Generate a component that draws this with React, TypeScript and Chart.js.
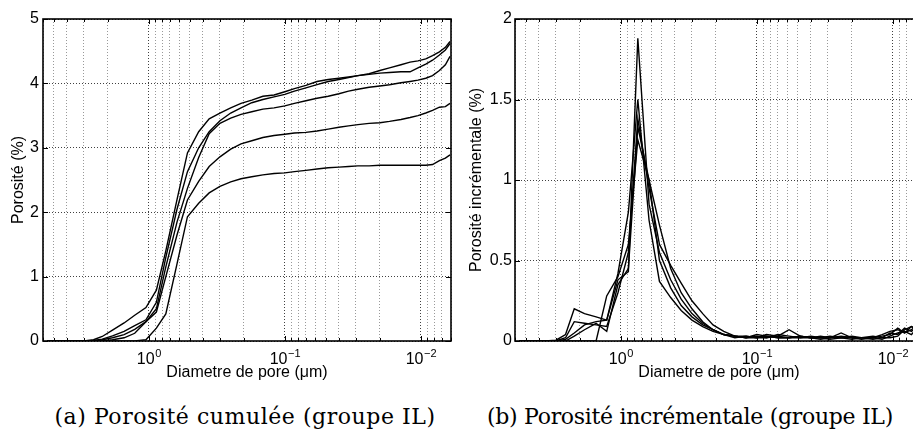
import React, { useEffect, useRef } from 'react';
import { Chart, registerables } from 'chart.js';

Chart.register(...registerables);

// Pore diameters (µm)
const diameters = [5.6, 4.4, 3.6, 3.0, 2.55, 2.2, 1.85, 1.52, 1.27, 1.05, 0.88, 0.75, 0.62, 0.52, 0.43, 0.36, 0.30, 0.25, 0.21, 0.175, 0.145, 0.12, 0.1, 0.085, 0.07, 0.058, 0.048, 0.04, 0.034, 0.029, 0.024, 0.02, 0.017, 0.014, 0.012, 0.0105, 0.0092, 0.0082, 0.0073, 0.0066, 0.0061];

// (a) cumulative porosity (%)
const cumulA = [0, 0, 0, 0, 0.02, 0.07, 0.17, 0.28, 0.4, 0.52, 0.79, 1.4, 2.2, 2.92, 3.25, 3.45, 3.54, 3.62, 3.69, 3.74, 3.8, 3.82, 3.87, 3.92, 3.97, 4.03, 4.06, 4.08, 4.1, 4.12, 4.14, 4.16, 4.17, 4.18, 4.18, 4.24, 4.3, 4.36, 4.44, 4.52, 4.62];
const cumulB = [0, 0, 0, 0, 0.01, 0.03, 0.08, 0.15, 0.24, 0.33, 0.6, 1.3, 2.05, 2.63, 3.0, 3.25, 3.42, 3.54, 3.62, 3.7, 3.75, 3.79, 3.83, 3.88, 3.93, 3.98, 4.03, 4.06, 4.09, 4.12, 4.15, 4.2, 4.24, 4.29, 4.33, 4.35, 4.38, 4.43, 4.49, 4.56, 4.65];
const cumulC = [0, 0, 0, 0, 0, 0.02, 0.05, 0.1, 0.18, 0.3, 0.5, 1.15, 1.85, 2.37, 2.85, 3.22, 3.38, 3.46, 3.52, 3.56, 3.6, 3.62, 3.65, 3.69, 3.73, 3.77, 3.8, 3.84, 3.88, 3.91, 3.94, 3.96, 3.98, 4.01, 4.03, 4.05, 4.08, 4.12, 4.2, 4.29, 4.42];
const cumulD = [0, 0, 0, 0, 0, 0, 0.02, 0.05, 0.12, 0.3, 0.45, 1.0, 1.65, 2.19, 2.48, 2.71, 2.86, 2.98, 3.06, 3.11, 3.16, 3.19, 3.21, 3.23, 3.24, 3.26, 3.29, 3.32, 3.34, 3.36, 3.38, 3.39, 3.41, 3.44, 3.47, 3.5, 3.54, 3.58, 3.63, 3.64, 3.69];
const cumulE = [0, 0, 0, 0, 0, 0, 0, 0, 0, 0.02, 0.2, 0.42, 1.2, 1.93, 2.14, 2.3, 2.4, 2.47, 2.52, 2.55, 2.58, 2.6, 2.61, 2.63, 2.65, 2.67, 2.69, 2.7, 2.71, 2.72, 2.72, 2.73, 2.73, 2.73, 2.73, 2.73, 2.73, 2.74, 2.8, 2.84, 2.89];

// (b) incremental porosity (%)
const incr1 = [0, 0, 0, 0, 0.01, 0.05, 0.1, 0.12, 0.13, 0.38, 0.43, 1.88, 0.85, 0.55, 0.38, 0.26, 0.17, 0.11, 0.07, 0.04, 0.03, 0.03, 0.02, 0.03, 0.02, 0.02, 0.03, 0.02, 0.02, 0.01, 0.02, 0.02, 0.01, 0.02, 0.01, 0.03, 0.05, 0.06, 0.04, 0.08, 0.1];
const incr2 = [0, 0, 0, 0.005, 0.04, 0.2, 0.17, 0.15, 0.13, 0.42, 0.8, 1.5, 0.75, 0.37, 0.27, 0.19, 0.13, 0.09, 0.06, 0.04, 0.03, 0.02, 0.03, 0.02, 0.04, 0.03, 0.02, 0.02, 0.03, 0.02, 0.02, 0.03, 0.02, 0.02, 0.04, 0.06, 0.07, 0.05, 0.09, 0.07, 0.11];
const incr3 = [0, 0, 0, 0, 0.02, 0.12, 0.11, 0.1, 0.09, 0.3, 0.55, 1.38, 0.95, 0.6, 0.47, 0.36, 0.25, 0.17, 0.1, 0.06, 0.03, 0.02, 0.02, 0.04, 0.03, 0.07, 0.03, 0.02, 0.02, 0.02, 0.03, 0.02, 0.02, 0.01, 0.02, 0.05, 0.04, 0.08, 0.06, 0.09, 0.08];
const incr4 = [0, 0, 0, 0, 0, 0.03, 0.07, 0.11, 0.06, 0.35, 0.45, 1.33, 1.0, 0.5, 0.33, 0.22, 0.15, 0.1, 0.07, 0.04, 0.02, 0.03, 0.02, 0.02, 0.03, 0.02, 0.03, 0.02, 0.01, 0.02, 0.05, 0.02, 0.02, 0.02, 0.03, 0.04, 0.08, 0.05, 0.07, 0.1, 0.06];
const incr5 = [0, 0, 0, 0, 0, 0, 0, 0, 0.28, 0.4, 0.6, 1.25, 1.0, 0.72, 0.45, 0.3, 0.2, 0.12, 0.07, 0.04, 0.03, 0.02, 0.04, 0.03, 0.02, 0.02, 0.02, 0.03, 0.02, 0.03, 0.02, 0.01, 0.02, 0.03, 0.02, 0.02, 0.03, 0.07, 0.09, 0.07, 0.1];

// Axis labels / ticks
const xMajorTicks = [1, 0.1, 0.01];
const xMajorExponents = ['0', '\u22121', '\u22122'];
const xMantissas = [1, 2, 3, 4, 5, 6, 7, 8, 9];
const xDecades = [0.001, 0.01, 0.1, 1];
const xMin = 0.006;
const xMax = 6;
const xTitle = 'Diametre de pore (\u03bcm)';
const leftYTitle = 'Porosit\u00e9 (%)';
const rightYTitle = 'Porosit\u00e9 incr\u00e9mentale (%)';
const captionA = '(a) Porosit\u00e9 cumul\u00e9e (groupe IL)';
const captionB = '(b) Porosit\u00e9 incr\u00e9mentale (groupe IL)';

const SANS = '"Liberation Sans", Arial, Helvetica, sans-serif';

const gridValues: number[] = [];
xDecades.forEach((d) => xMantissas.forEach((m) => {
  const v = +(m * d).toPrecision(3);
  if (v >= xMin && v <= xMax) gridValues.push(v);
}));

const isMajor = (v: number) => xMajorTicks.some((m) => Math.abs(v - m) / m < 1e-6);

const framePlugin = {
  id: 'matlabFrame',
  afterDraw(chart: any) {
    const { ctx, chartArea } = chart;
    const xs = chart.scales.x;
    const ys = chart.scales.y;
    ctx.save();
    ctx.strokeStyle = '#000';
    ctx.lineWidth = 1;
    xs.ticks.forEach((t: any) => {
      const px = Math.round(xs.getPixelForValue(t.value)) + 0.5;
      const len = isMajor(t.value) ? 5 : 3;
      ctx.beginPath();
      ctx.moveTo(px, chartArea.bottom);
      ctx.lineTo(px, chartArea.bottom - len);
      ctx.moveTo(px, chartArea.top);
      ctx.lineTo(px, chartArea.top + len);
      ctx.stroke();
    });
    ys.ticks.forEach((t: any) => {
      const py = Math.round(ys.getPixelForValue(t.value)) + 0.5;
      ctx.beginPath();
      ctx.moveTo(chartArea.left, py);
      ctx.lineTo(chartArea.left + 5, py);
      ctx.moveTo(chartArea.right, py);
      ctx.lineTo(chartArea.right - 5, py);
      ctx.stroke();
    });
    ctx.lineWidth = 1.6;
    ctx.strokeRect(chartArea.left, chartArea.top, chartArea.right - chartArea.left, chartArea.bottom - chartArea.top);
    ctx.fillStyle = '#000';
    ctx.textBaseline = 'alphabetic';
    ctx.textAlign = 'left';
    xMajorTicks.forEach((v, i) => {
      const px = xs.getPixelForValue(v);
      ctx.font = `16px ${SANS}`;
      const w1 = ctx.measureText('10').width;
      ctx.font = `11px ${SANS}`;
      const w2 = ctx.measureText(xMajorExponents[i]).width;
      const x0 = px - (w1 + w2) / 2;
      ctx.font = `16px ${SANS}`;
      ctx.fillText('10', x0, chartArea.bottom + 22.5);
      ctx.font = `11px ${SANS}`;
      ctx.fillText(xMajorExponents[i], x0 + w1 + 0.5, chartArea.bottom + 15.5);
    });
    ctx.restore();
  },
};

function makeConfig(series: number[][], yMax: number, yStep: number, yTitle: string, yWidth: number, yTitlePad: number, yTickPad: number, padRight: number): any {
  return {
    type: 'line',
    data: {
      datasets: series.map((s) => ({
        data: diameters.map((d, i) => ({ x: d, y: s[i] })),
        borderColor: '#000',
        borderWidth: 1.4,
        pointRadius: 0,
        fill: false,
        tension: 0,
      })),
    },
    options: {
      animation: false,
      responsive: false,
      maintainAspectRatio: false,
      layout: { padding: { top: 19, right: padRight, bottom: 0, left: 0 } },
      plugins: { legend: { display: false }, tooltip: { enabled: false } },
      scales: {
        x: {
          type: 'logarithmic',
          reverse: true,
          min: xMin,
          max: xMax,
          afterBuildTicks: (s: any) => { s.ticks = gridValues.map((v) => ({ value: v })); },
          ticks: { display: false },
          grid: {
            drawTicks: false,
            color: (c: any) => (c.tick && isMajor(c.tick.value) ? 'rgba(0,0,0,0.75)' : 'rgba(0,0,0,0.4)'),
            lineWidth: 1,
          },
          border: { display: false, dash: [1, 2] },
          title: { display: true, text: xTitle, color: '#000', font: { size: 16, family: SANS }, padding: { top: 0, bottom: 18 } },
          afterFit: (s: any) => { s.height = 59; },
        },
        y: {
          min: 0,
          max: yMax,
          ticks: { stepSize: yStep, padding: yTickPad, color: '#000', font: { size: 16, family: SANS }, callback: (v: any) => String(v) },
          grid: { drawTicks: false, color: 'rgba(0,0,0,0.75)', lineWidth: 1 },
          border: { display: false, dash: [1, 2] },
          title: { display: true, text: yTitle, color: '#000', font: { size: 16, family: SANS }, padding: { top: yTitlePad, bottom: 0 } },
          afterFit: (s: any) => { s.width = yWidth; },
        },
      },
    },
    plugins: [framePlugin],
  };
}

function ChartCanvas({ config, left, width, height }: { config: any; left: number; width: number; height: number }) {
  const ref = useRef<HTMLCanvasElement | null>(null);
  useEffect(() => {
    if (!ref.current) return;
    const chart = new Chart(ref.current, config);
    return () => chart.destroy();
  }, [config]);
  return (
    <canvas
      ref={ref}
      width={width}
      height={height}
      style={{ position: 'absolute', left, top: 0, width, height }}
    />
  );
}

const leftConfig = makeConfig([cumulA, cumulB, cumulC, cumulD, cumulE], 5, 1, leftYTitle, 43, 9, 4, 9);
const rightConfig = makeConfig([incr1, incr2, incr3, incr4, incr5], 2, 0.5, rightYTitle, 60, 11.5, 3, 12);

const captionStyle = (center: number, spacing: number): React.CSSProperties => ({
  position: 'absolute',
  left: center - 300,
  width: 600,
  top: 406,
  textAlign: 'center',
  fontFamily: '"DejaVu Serif", "Liberation Serif", serif',
  fontSize: 22,
  letterSpacing: spacing,
  lineHeight: 1,
  color: '#000',
  whiteSpace: 'nowrap',
});

export default function App() {
  return (
    <div style={{ position: 'fixed', left: 0, top: 0, width: 913, height: 431, overflow: 'hidden', background: '#fff' }}>
      <ChartCanvas config={leftConfig} left={0} width={460} height={400} />
      <ChartCanvas config={rightConfig} left={455} width={480} height={400} />
      <div style={captionStyle(245, 0.55)}>{captionA}</div>
      <div style={captionStyle(690, -0.3)}>{captionB}</div>
    </div>
  );
}
